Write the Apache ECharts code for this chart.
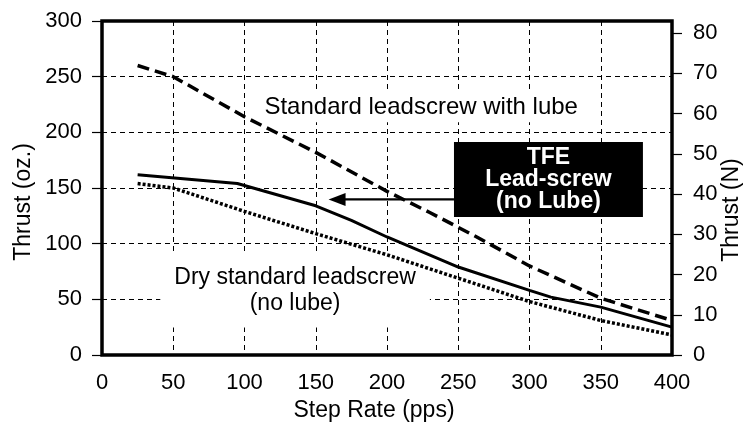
<!DOCTYPE html>
<html>
<head>
<meta charset="utf-8">
<script src="https://cdn.jsdelivr.net/npm/echarts@6/dist/echarts.min.js"></script>
<style>
  html, body { margin: 0; padding: 0; background: #fff; }
  #chart { width: 746px; height: 424px; }
</style>
</head>
<body>
<div id="chart"></div>
<script>
// Thrust (oz.) against step rate (pps) for three leadscrew conditions
const lubeSteps  = [25, 50, 100, 150, 200, 230, 263, 300, 350, 400];
const lubeThrust = [260, 250, 214, 182, 147, 128, 106, 80, 51, 31];

const tfeSteps  = [25, 95, 150, 175, 200, 250, 300, 315, 350, 400];
const tfeThrust = [162, 154, 134, 121, 106, 79, 58, 52, 43, 25];

const drySteps  = [25, 50, 100, 150, 200, 250, 300, 350, 400];
const dryThrust = [154, 150, 129, 109, 90, 69, 48, 31, 18];

// Axis ticks
const stepTicks   = [0, 50, 100, 150, 200, 250, 300, 350, 400];
const ozTicks     = [0, 50, 100, 150, 200, 250, 300];
const newtonTicks = [0, 10, 20, 30, 40, 50, 60, 70, 80];
const newtonMax   = 83; // 300 oz expressed in newtons

const FONT = '"Liberation Sans", Arial, Helvetica, sans-serif';

const pairs = (xs, ys) => xs.map((x, i) => [x, ys[i]]);

const chart = echarts.init(document.getElementById('chart'), null, { renderer: 'canvas' });

const gridLine = { show: true, lineStyle: { color: '#000', width: 1, type: [5, 4] } };

chart.setOption({
  animation: false,
  backgroundColor: '#fff',
  textStyle: { fontFamily: FONT, color: '#000' },
  grid: {
    left: 102, right: 74, top: 21, bottom: 69,
    outerBoundsMode: 'none', containLabel: false,
    show: true, borderColor: '#000', borderWidth: 3.5, backgroundColor: 'transparent'
  },
  xAxis: {
    type: 'value', min: stepTicks[0], max: stepTicks[stepTicks.length - 1], interval: 50,
    name: 'Step Rate (pps)', nameLocation: 'middle', nameGap: 44, nameMoveOverlap: false,
    nameTextStyle: { fontSize: 23, color: '#000', padding: [0, 26, 0, 0] },
    axisLine: { show: false }, axisTick: { show: false },
    axisLabel: { fontSize: 22, color: '#000', margin: 17 },
    splitLine: gridLine
  },
  yAxis: [
    {
      type: 'value', position: 'left', min: ozTicks[0], max: ozTicks[ozTicks.length - 1], interval: 50,
      name: 'Thrust (oz.)', nameLocation: 'middle', nameRotate: 90, nameGap: 67, nameMoveOverlap: false,
      nameTextStyle: { fontSize: 23, color: '#000', padding: [0, 28, 0, 0] },
      axisLine: { show: false },
      axisTick: { show: true, inside: false, length: 10, lineStyle: { color: '#000', width: 1.2 } },
      axisLabel: { fontSize: 22, color: '#000', margin: 20 },
      splitLine: gridLine
    },
    {
      type: 'value', position: 'right', min: 0, max: newtonMax, interval: 10,
      name: 'Thrust (N)', nameLocation: 'middle', nameRotate: 90, nameGap: 48, nameMoveOverlap: false,
      nameTextStyle: { fontSize: 23, color: '#000', padding: [0, 44, 0, 0] },
      axisLine: { show: false },
      axisTick: { show: true, inside: false, length: 10, customValues: newtonTicks,
                  lineStyle: { color: '#000', width: 1.2 } },
      axisLabel: { fontSize: 22, color: '#000', margin: 21, customValues: newtonTicks },
      splitLine: { show: false }
    }
  ],
  series: [
    {
      name: 'Standard leadscrew with lube', type: 'line', data: pairs(lubeSteps, lubeThrust),
      showSymbol: false, z: 3,
      lineStyle: { color: '#000', width: 3.5, type: [12, 6], cap: 'butt' }
    },
    {
      name: 'TFE Lead-screw (no Lube)', type: 'line', data: pairs(tfeSteps, tfeThrust),
      showSymbol: false, z: 3,
      lineStyle: { color: '#000', width: 3 }
    },
    {
      name: 'Dry standard leadscrew (no lube)', type: 'line', data: pairs(drySteps, dryThrust),
      showSymbol: false, z: 3,
      lineStyle: { color: '#000', width: 3.5, type: [3, 2], cap: 'butt' }
    }
  ]
});

// Annotations, placed in data units (pps, oz.)
const toPx = (x, y) => chart.convertToPixel({ xAxisIndex: 0, yAxisIndex: 0 }, [x, y]);

const lubeLabelAt = toPx(224, 222.5);
const dryLabelAt  = toPx(135.5, 58);
const boxTL = toPx(247, 191.3);
const boxBR = toPx(379.6, 124);
const arrowTail = toPx(247, 139.7);
const arrowTip  = toPx(159, 139.7);
const headLen = 17, headHalf = 6.5;

chart.setOption({
  graphic: [
    {
      type: 'text', z: 1,
      style: {
        text: 'Standard leadscrew with lube', x: lubeLabelAt[0], y: lubeLabelAt[1],
        align: 'center', verticalAlign: 'middle', font: '24px ' + FONT, fill: '#000',
        backgroundColor: '#fff', padding: [3, 6]
      }
    },
    {
      type: 'text', z: 1,
      style: {
        text: 'Dry standard leadscrew\n(no lube)', x: dryLabelAt[0], y: dryLabelAt[1],
        align: 'center', verticalAlign: 'middle', font: '23px ' + FONT, lineHeight: 26,
        fill: '#000', backgroundColor: '#fff', padding: [11, 14]
      }
    },
    {
      type: 'rect', z: 5,
      shape: { x: boxTL[0], y: boxTL[1], width: boxBR[0] - boxTL[0], height: boxBR[1] - boxTL[1] },
      style: { fill: '#000' }
    },
    {
      type: 'text', z: 6,
      style: {
        text: 'TFE\nLead-screw\n(no Lube)',
        x: (boxTL[0] + boxBR[0]) / 2, y: (boxTL[1] + boxBR[1]) / 2,
        align: 'center', verticalAlign: 'middle', font: 'bold 23px ' + FONT, lineHeight: 22,
        fill: '#fff'
      }
    },
    {
      type: 'line', z: 5,
      shape: { x1: arrowTail[0], y1: arrowTail[1], x2: arrowTip[0] + headLen - 1, y2: arrowTip[1] },
      style: { stroke: '#000', lineWidth: 2.2 }
    },
    {
      type: 'polygon', z: 5,
      shape: { points: [
        [arrowTip[0], arrowTip[1]],
        [arrowTip[0] + headLen, arrowTip[1] - headHalf],
        [arrowTip[0] + headLen, arrowTip[1] + headHalf]
      ] },
      style: { fill: '#000' }
    }
  ]
});
</script>
</body>
</html>
